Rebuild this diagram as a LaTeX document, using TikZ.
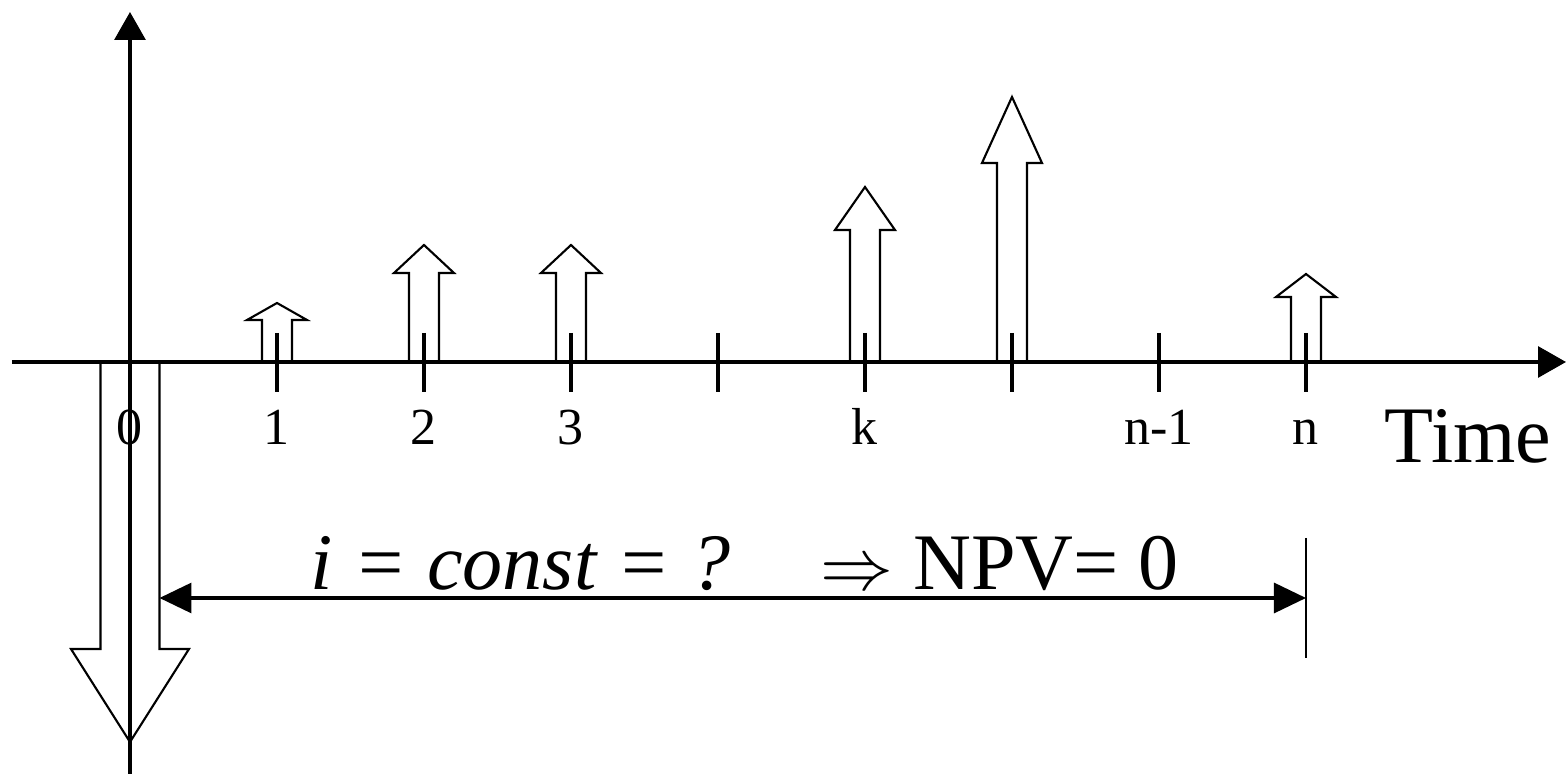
\documentclass[tikz,border=0pt]{standalone}
\usepackage{fontspec}
\setmainfont{Liberation Serif}
\usetikzlibrary{arrows.meta,positioning,calc}

% hollow cash-flow arrow: position, head base, tip
\newcommand{\cashup}[3]{%
  \draw[flow] (#1-0.15,0) -- (#1-0.15,#2) -- (#1-0.30,#2) -- (#1,#3)
    -- (#1+0.30,#2) -- (#1+0.15,#2) -- (#1+0.15,0);}

\begin{document}
\begin{tikzpicture}[
  axis/.style={line width=0.9pt, -{Triangle[length=0.28cm, width=0.31cm]}},
  tickmark/.style={line width=0.9pt},
  flow/.style={line width=0.6pt, line join=miter},
  span/.style={line width=0.9pt,
               {Triangle[length=0.32cm, width=0.30cm]}-{Triangle[length=0.32cm, width=0.30cm]}},
  lbl/.style={font=\fontsize{14.8}{17}\selectfont, anchor=base, inner sep=0pt},
  big/.style={font=\fontsize{22.8}{27}\selectfont, inner sep=0pt}
]
  \useasboundingbox (-1.30,-4.12) rectangle (14.36,3.62);

  % investment at time 0
  \draw[flow] (-0.295,0) -- (-0.295,-2.87) -- (-0.59,-2.87) -- (0,-3.80)
    -- (0.59,-2.87) -- (0.295,-2.87) -- (0.295,0);

  % returns
  \cashup{1.47}{0.42}{0.59}
  \cashup{2.94}{0.89}{1.17}
  \cashup{4.41}{0.89}{1.17}
  \cashup{7.35}{1.32}{1.75}
  \cashup{8.82}{1.99}{2.65}
  \cashup{11.76}{0.65}{0.88}

  % axes
  \coordinate (xstart) at (-1.18,0);
  \coordinate (xend)   at (14.36,0);
  \coordinate (ystart) at (0,-4.12);
  \coordinate (yend)   at (0,3.50);
  \draw[axis] (xstart) -- (xend);
  \draw[axis] (ystart) -- (yend);

  \foreach \i in {1,...,8}
    \draw[tickmark] (1.47*\i,0.29) -- (1.47*\i,-0.30);

  \node[lbl] (t0)  at (0,-0.83)     {0};
  \node[lbl] (t1)  at (1.47,-0.83)  {1};
  \node[lbl] (t2)  at (2.94,-0.83)  {2};
  \node[lbl] (t3)  at (4.41,-0.83)  {3};
  \node[lbl] (tk)  at (7.35,-0.83)  {k};
  \node[lbl] (tn1) at (10.29,-0.83) {n-1};
  \node[lbl] (tn)  at (11.76,-0.83) {n};
  \node[big, anchor=base] (time) at (13.38,-1.01) {Time};

  % horizon of the IRR
  \coordinate (spanL) at (0.295,-2.36);
  \coordinate (spanR) at (11.76,-2.36);
  \coordinate (endTop) at (11.76,-1.76);
  \coordinate (endBot) at (11.76,-2.96);
  \draw[line width=0.6pt] (endTop) -- (endBot);
  \draw[span] (spanL) -- (spanR);

  \node[big, anchor=base west] (irr) at (1.80,-2.28)
    {{\itshape i = const = ?}\hspace{0.9cm}$\Rightarrow$\hspace{0.2cm}NPV= 0};
\end{tikzpicture}
\end{document}
